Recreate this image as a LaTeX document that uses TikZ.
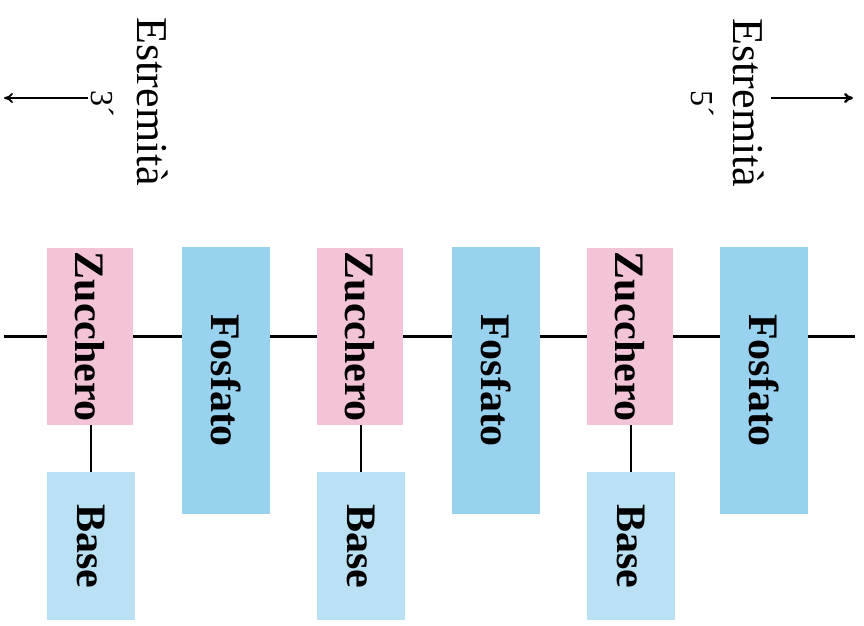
\documentclass[tikz,border=0pt]{standalone}
\usepackage{fontspec}
\setmainfont{Liberation Serif}
\usetikzlibrary{arrows.meta}
\definecolor{sugarpink}{RGB}{243,196,216}
\definecolor{phosblue}{RGB}{152,210,238}
\definecolor{baseblue}{RGB}{186,225,243}
\tikzset{
  unit/.style={rotate=-90, inner sep=0pt, text=black,
    font=\fontsize{42}{44}\selectfont\bfseries},
  sugar/.style={unit, fill=sugarpink, minimum width=177pt, minimum height=86pt},
  phos/.style={unit, fill=phosblue, minimum width=267pt, minimum height=88pt},
  basebox/.style={unit, fill=baseblue, minimum width=148pt, minimum height=88pt},
  endlabel/.style={rotate=-90, inner sep=0pt, font=\fontsize{44}{46}\selectfont},
  endnum/.style={rotate=-90, inner sep=0pt, font=\fontsize{32}{34}\selectfont},
  bond/.style={line width=2.1pt},
  dirarrow/.style={-{To[length=9pt,width=10pt]}, line width=1.7pt},
}
\begin{document}
\begin{tikzpicture}[x=1pt,y=-1pt]
\useasboundingbox[fill=white] (0,0) rectangle (864,625);

% sugar-phosphate backbone units
\node[sugar] (Z1) at (90,336.5) {Zucchero};
\node[phos]  (F1) at (226,380.5) {Fosfato\hspace{14pt}};
\node[sugar] (Z2) at (360,336.5) {Zucchero};
\node[phos]  (F2) at (496,380.5) {Fosfato\hspace{14pt}};
\node[sugar] (Z3) at (630,336.5) {Zucchero};
\node[phos]  (F3) at (764,380.5) {Fosfato\hspace{14pt}};

% bases hanging from each sugar
\node[basebox] (B1) at (91,546) {Base};
\node[basebox] (B2) at (361,546) {Base};
\node[basebox] (B3) at (631,546) {Base};

% free ends of the chain
\coordinate (Lend) at (4,336.5);
\coordinate (Rend) at (855,336.5);

% backbone bonds
\draw[bond] (Lend) -- (Z1.south);
\draw[bond] (Z1.north) -- (Z1.north -| F1.south);
\draw[bond] (Z1.north -| F1.north) -- (Z2.south);
\draw[bond] (Z2.north) -- (Z2.north -| F2.south);
\draw[bond] (Z2.north -| F2.north) -- (Z3.south);
\draw[bond] (Z3.north) -- (Z3.north -| F3.south);
\draw[bond] (Z3.north -| F3.north) -- (Rend);

% sugar-base bonds
\draw[bond] (Z1.east -| B1.center) -- (B1.west);
\draw[bond] (Z2.east -| B2.center) -- (B2.west);
\draw[bond] (Z3.east -| B3.center) -- (B3.west);

% chain ends
\node[endlabel] (E3) at (153,102) {Estremità};
\node[endnum]   (N3) at (102,104) {3´};
\node[endlabel] (E5) at (749,103) {Estremità};
\node[endnum]   (N5) at (702,104) {5´};

\coordinate (A3s) at (88,98);
\coordinate (A3e) at (4,98);
\coordinate (A5s) at (771,98);
\coordinate (A5e) at (853,98);
\draw[dirarrow] (A3s) -- (A3e);
\draw[dirarrow, line width=2.5pt] (A5s) -- (A5e);
\end{tikzpicture}
\end{document}
